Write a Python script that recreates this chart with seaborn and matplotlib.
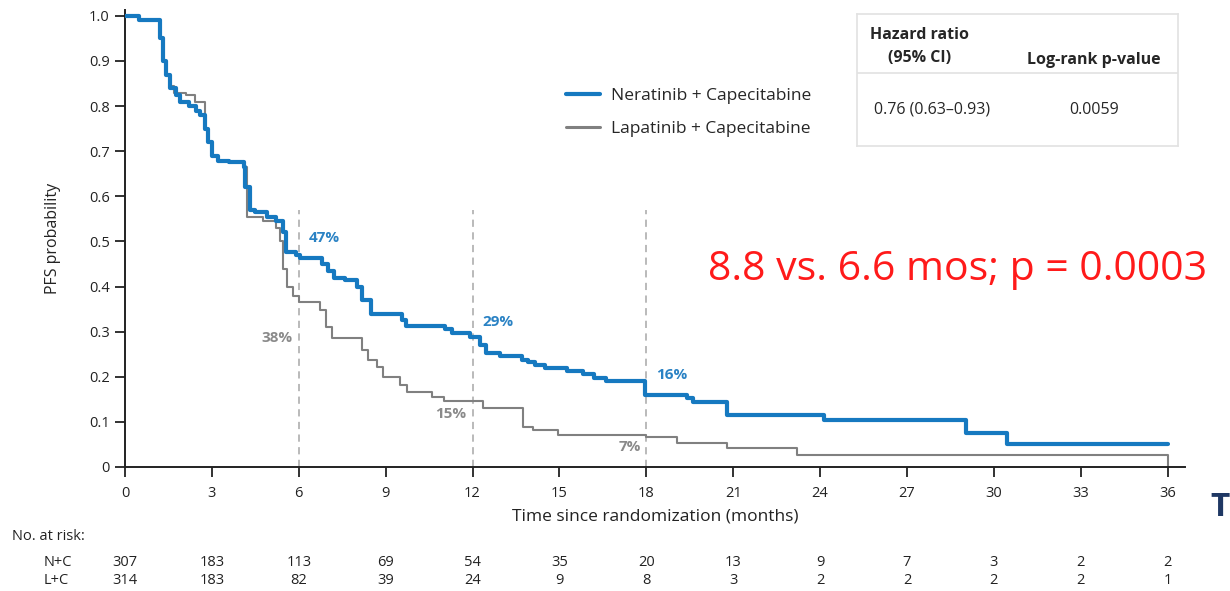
import numpy as np
import pandas as pd
import seaborn as sns
import matplotlib.pyplot as plt
from matplotlib.transforms import blended_transform_factory
from matplotlib.lines import Line2D

# Kaplan-Meier steps (time in months, PFS probability)
nc_time = [0, 0.5, 1.2, 1.3, 1.4, 1.55, 1.75, 1.9, 2.2, 2.45, 2.6, 2.75, 2.85, 3.0, 3.2, 3.6,
           4.1, 4.15, 4.3, 4.5, 4.9, 5.2, 5.45, 5.55, 5.9, 6.05, 6.8, 7.0, 7.2, 7.6, 8.0, 8.2,
           8.5, 9.55, 9.7, 11.05, 11.3, 11.9, 12.25, 12.45, 12.95, 13.7, 13.9, 14.15, 14.5,
           15.25, 15.8, 16.2, 16.6, 17.95, 19.4, 19.6, 20.8, 24.15, 29.05, 30.45, 36.0]
nc_surv = [1.0, 0.99, 0.95, 0.90, 0.87, 0.84, 0.825, 0.81, 0.80, 0.79, 0.78, 0.75, 0.72, 0.69,
           0.678, 0.675, 0.665, 0.62, 0.57, 0.565, 0.555, 0.545, 0.52, 0.477, 0.47, 0.463,
           0.45, 0.435, 0.42, 0.415, 0.40, 0.37, 0.34, 0.325, 0.312, 0.305, 0.297, 0.288,
           0.27, 0.253, 0.245, 0.237, 0.232, 0.226, 0.219, 0.213, 0.206, 0.197, 0.19, 0.16,
           0.153, 0.144, 0.115, 0.104, 0.076, 0.051, 0.051]

lc_time = [0, 0.5, 1.2, 1.3, 1.4, 1.55, 1.7, 2.1, 2.4, 2.75, 2.85, 3.0, 3.2, 3.6, 4.1, 4.2,
           4.75, 5.2, 5.35, 5.45, 5.6, 5.8, 6.0, 6.75, 6.95, 7.15, 8.2, 8.4, 8.7, 8.9, 9.5,
           9.75, 10.6, 11.0, 12.35, 13.75, 14.1, 14.95, 18.0, 19.05, 20.8, 23.2, 36.0]
lc_surv = [1.0, 0.99, 0.95, 0.90, 0.87, 0.845, 0.83, 0.825, 0.81, 0.75, 0.72, 0.69, 0.678,
           0.675, 0.665, 0.555, 0.545, 0.53, 0.50, 0.44, 0.40, 0.38, 0.366, 0.348, 0.31,
           0.285, 0.26, 0.237, 0.222, 0.20, 0.182, 0.166, 0.155, 0.146, 0.131, 0.089, 0.082,
           0.071, 0.067, 0.053, 0.042, 0.027, 0.0]

arm_names = ["Neratinib + Capecitabine", "Lapatinib + Capecitabine"]
arm_short = ["N+C", "L+C"]

x_ticks = [0, 3, 6, 9, 12, 15, 18, 21, 24, 27, 30, 33, 36]
y_ticks = [0, 0.1, 0.2, 0.3, 0.4, 0.5, 0.6, 0.7, 0.8, 0.9, 1.0]
y_tick_labels = ["0", "0.1", "0.2", "0.3", "0.4", "0.5", "0.6", "0.7", "0.8", "0.9", "1.0"]

risk_nc = [307, 183, 113, 69, 54, 35, 20, 13, 9, 7, 3, 2, 2]
risk_lc = [314, 183, 82, 39, 24, 9, 8, 3, 2, 2, 2, 2, 1]

landmarks = [6, 12, 18]
nc_pct = [0.47, 0.29, 0.16]
lc_pct = [0.38, 0.15, 0.07]

hr_text = "0.76 (0.63\u20130.93)"
logrank_p = "0.0059"
median_text = "8.8 vs. 6.6 mos; p = 0.0003"

blue = "#1679c0"
gray = "#808080"

df = pd.concat([
    pd.DataFrame({"t": nc_time, "s": nc_surv, "arm": arm_names[0]}),
    pd.DataFrame({"t": lc_time, "s": lc_surv, "arm": arm_names[1]}),
])

sns.set_style("ticks")
plt.rcParams["font.family"] = ["Open Sans", "DejaVu Sans"]

W, H = 1230, 591
fig = plt.figure(figsize=(W / 100, H / 100), dpi=100)


def px(x, y):
    return x / W, 1 - y / H


ax = fig.add_axes([125 / W, 124 / H, 1060 / W, 457 / H])

# landmark dashed lines
for t in landmarks:
    ax.plot([t, t], [0, 0.57], color="#b4b4b4", lw=1.3, ls=(0, (4, 3)), zorder=1)

sns.lineplot(data=df, x="t", y="s", hue="arm", palette=[blue, gray],
             drawstyle="steps-post", estimator=None, sort=False, legend=False, ax=ax)
ax.lines[-2].set_linewidth(3.0)
ax.lines[-1].set_linewidth(1.5)
ax.lines[-2].set_zorder(3)
ax.lines[-1].set_zorder(2)

ax.set_xlim(0, 36.6)
ax.set_ylim(0, 1.013)
ax.set_xticks(x_ticks)
ax.set_yticks(y_ticks)
ax.set_yticklabels(y_tick_labels)
ax.tick_params(axis="both", labelsize=10.5, length=7, width=1.3, colors="#222222", pad=4)
ax.tick_params(axis="x", pad=7)
for sp in ["left", "bottom"]:
    ax.spines[sp].set_linewidth(1.4)
    ax.spines[sp].set_color("#222222")
sns.despine(ax=ax)
ax.set_xlabel("Time since randomization (months)", fontsize=12.5, labelpad=5,
              color="#222222")
ax.set_ylabel("PFS probability", fontsize=11.5, labelpad=20, color="#222222")

# landmark percentages
nc_dy = [0.038, 0.031, 0.044]
lc_dy = [-0.094, -0.032, -0.026]
for t, v, dy in zip(landmarks, nc_pct, nc_dy):
    ax.text(t + 0.35, v + dy, f"{v * 100:.0f}%", color="#2a82c4", fontsize=11,
            fontweight="bold", ha="left", va="center")
for t, v, dy in zip(landmarks, lc_pct, lc_dy):
    ax.text(t - 0.2, v + dy, f"{v * 100:.0f}%", color="#8a8a8a", fontsize=11,
            fontweight="bold", ha="right", va="center")

# legend
handles = [Line2D([], [], color=blue, lw=3.0), Line2D([], [], color=gray, lw=2.2)]
fig.legend(handles, arm_names, loc="upper left", bbox_to_anchor=px(550, 72), frameon=False,
           fontsize=12.5, handlelength=2.0, handletextpad=0.6, labelspacing=1.0)

# hazard ratio table
tab = fig.add_axes([857 / W, 1 - 146 / H, 321 / W, 132 / H])
tab.set_xticks([])
tab.set_yticks([])
for sp in tab.spines.values():
    sp.set_color("#e2e2e2")
    sp.set_linewidth(1.2)
tab.set_xlim(0, 1)
tab.set_ylim(0, 1)
tab.axhline(0.553, color="#e2e2e2", lw=1.2)
tab.text(0.196, 0.84, "Hazard ratio", ha="center", va="center", fontsize=11.5,
         fontweight="bold")
tab.text(0.196, 0.667, "(95% CI)", ha="center", va="center", fontsize=11.5, fontweight="bold")
tab.text(0.738, 0.65, "Log-rank p-value", ha="center", va="center", fontsize=11.5,
         fontweight="bold")
tab.text(0.235, 0.273, hr_text, ha="center", va="center", fontsize=11.5)
tab.text(0.738, 0.273, logrank_p, ha="center", va="center", fontsize=11.5)

# red median text
fig.text(*px(708, 270), median_text, color="#ff1a1a", fontsize=29.5, ha="left", va="center")

# number at risk
tr = blended_transform_factory(ax.transData, fig.transFigure)
fig.text(*px(12, 537), "No. at risk:", fontsize=10.5, ha="left", va="center", color="#222222")
for row, (name, vals) in enumerate(zip(arm_short, [risk_nc, risk_lc])):
    yy = 1 - (562 + 18 * row) / H
    fig.text(*px(44, 562 + 18 * row), name, fontsize=10.5, ha="left", va="center",
             color="#222222")
    for t, n in zip(x_ticks, vals):
        ax.text(t, yy, str(n), transform=tr, fontsize=10.5, ha="center", va="center",
                color="#222222")

# cropped logo letter at the right edge
fig.text(*px(1210, 508), "T", color="#1f3864", fontsize=24, fontweight="bold",
         ha="left", va="center")

fig.savefig("out.png", dpi=100)
